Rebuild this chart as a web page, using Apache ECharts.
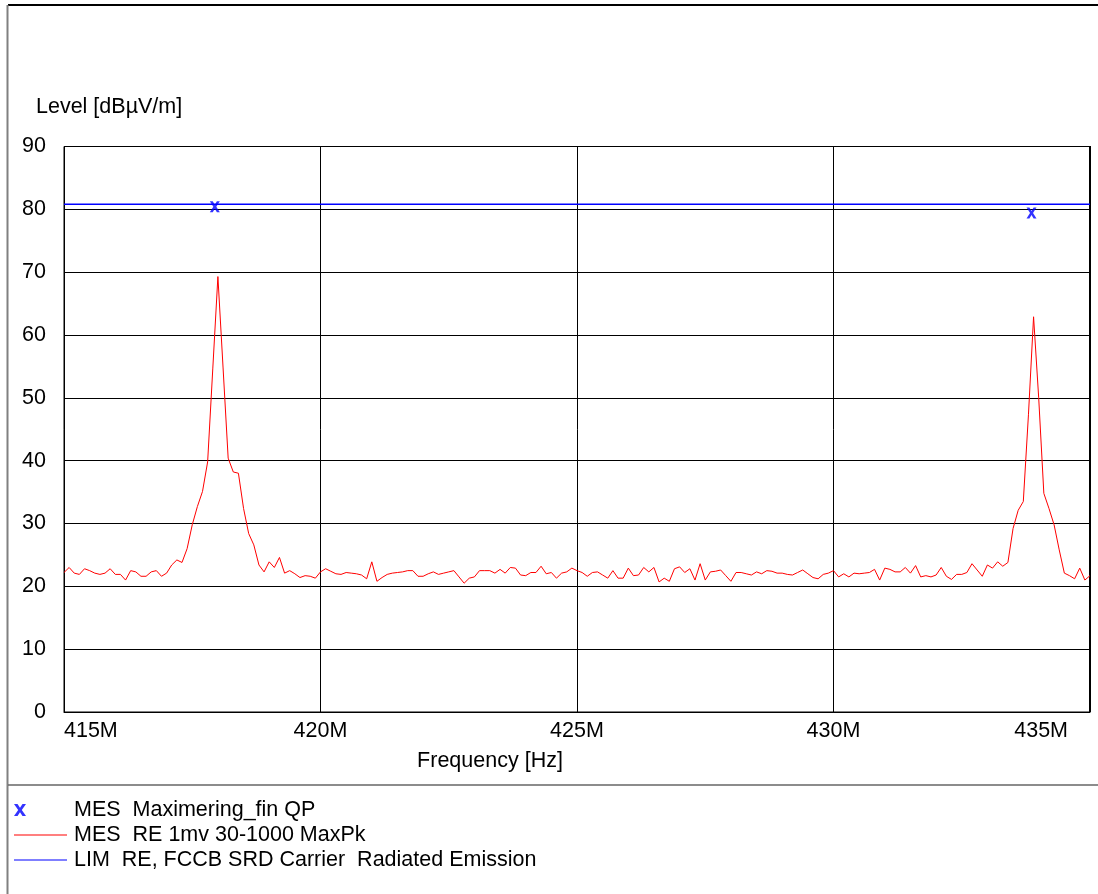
<!DOCTYPE html>
<html>
<head>
<meta charset="utf-8">
<script src="https://cdn.jsdelivr.net/npm/echarts@6/dist/echarts.min.js"></script>
<style>
html, body { margin: 0; padding: 0; background: #fff; }
#chart { width: 1098px; height: 894px; }
</style>
</head>
<body>
<div id="chart"></div>
<script>
var dom = document.getElementById("chart");
var myChart = echarts.init(dom);

// sweep: 415 MHz .. 435 MHz, one reading every 100 kHz
var sweepStart = 415e6;
var sweepStep = 0.1e6;
var maxPk = [
    22.2, 23.0, 22.1, 21.9, 22.8, 22.5, 22.1, 21.9, 22.1, 22.8,
    21.9, 21.9, 21.0, 22.5, 22.3, 21.6, 21.6, 22.3, 22.5, 21.6,
    22.1, 23.4, 24.2, 23.8, 26.0, 29.8, 32.7, 35.1, 39.8, 54.6,
    69.3, 54.9, 40.4, 38.2, 38.0, 32.4, 28.4, 26.6, 23.4, 22.3,
    23.9, 23.0, 24.6, 22.1, 22.5, 22.0, 21.4, 21.7, 21.6, 21.3,
    22.3, 22.8, 22.4, 22.0, 21.9, 22.2, 22.1, 22.0, 21.8, 21.2,
    23.9, 20.8, 21.4, 21.9, 22.1, 22.2, 22.3, 22.5, 22.5, 21.6,
    21.6, 22.0, 22.3, 21.9, 22.1, 22.3, 22.5, 21.5, 20.5, 21.3,
    21.5, 22.5, 22.5, 22.5, 22.1, 22.7, 22.1, 23.0, 22.9, 21.8,
    21.7, 22.2, 22.2, 23.2, 22.0, 22.2, 21.3, 22.1, 22.3, 22.9,
    22.5, 22.2, 21.6, 22.2, 22.3, 21.8, 21.3, 22.5, 21.3, 21.3,
    22.9, 21.7, 21.8, 23.0, 22.3, 23.0, 20.7, 21.3, 20.8, 22.8,
    23.1, 22.2, 22.8, 21.0, 23.6, 21.0, 22.3, 22.4, 22.6, 21.7,
    20.8, 22.2, 22.2, 22.0, 21.8, 22.3, 22.0, 22.5, 22.4, 22.1,
    22.1, 21.9, 21.8, 22.2, 22.6, 22.0, 21.4, 21.2, 21.9, 22.1,
    22.5, 21.5, 22.0, 21.5, 22.1, 22.0, 22.1, 22.2, 22.7, 21.0,
    22.9, 22.7, 22.3, 22.3, 23.0, 22.1, 23.3, 21.5, 21.7, 21.5,
    21.8, 23.0, 21.6, 21.1, 21.9, 21.9, 22.2, 23.6, 22.6, 21.6,
    23.4, 22.9, 23.9, 23.2, 23.8, 29.2, 32.1, 33.5, 47.3, 62.9,
    50.0, 34.8, 32.4, 29.8, 25.8, 22.1, 21.7, 21.2, 22.9, 21.0,
    21.7
];

// final QP measurements
var qpFreq = [417.94e6, 433.86e6];
var qpLevel = [80.4, 79.4];

// limit line
var limitFreq = [415e6, 435e6];
var limitLevel = 80.8;

var xTicks = [415e6, 420e6, 425e6, 430e6, 435e6];
var yTicks = [0, 10, 20, 30, 40, 50, 60, 70, 80, 90];

var font = 'Liberation Sans';
var fs = 21.5;
var xMark = 'path://M0,0L3.5,0L6,3.8L8.5,0L12,0L7.8,6L12,12L8.5,12L6,8.2L3.5,12L0,12L4.2,6Z';
// legend icons: tiny corner points keep the 53x12 box so the shapes are not stretched
var boxPts = ' M0,0L0.01,0L0,0.01Z M53,12L52.99,12L53,11.99Z';
var xIcon = xMark + boxPts;
var lineIcon = 'path://M0,5.5L53,5.5L53,6.6L0,6.6Z' + boxPts;

var pkData = maxPk.map(function (v, i) {
    return [sweepStart + i * sweepStep, v];
});
var qpData = qpFreq.map(function (f, i) {
    return [f, qpLevel[i]];
});
var limData = limitFreq.map(function (f) {
    return [f, limitLevel];
});

var option = {
    animation: false,
    backgroundColor: '#fff',
    textStyle: { fontFamily: font },
    title: {
        text: 'Level [dBµV/m]',
        left: 36,
        top: 96,
        padding: 0,
        textStyle: { fontFamily: font, fontSize: fs, fontWeight: 'normal', color: '#000' }
    },
    grid: {
        left: 64,
        right: 8,
        top: 146.5,
        bottom: 182,
        show: true,
        borderColor: '#000',
        borderWidth: 1
    },
    xAxis: {
        type: 'value',
        min: xTicks[0],
        max: xTicks[xTicks.length - 1],
        interval: 5e6,
        name: 'Frequency [Hz]',
        nameLocation: 'middle',
        nameGap: 38,
        nameTextStyle: { fontSize: fs, color: '#000', padding: [0, 174, 0, 0] },
        axisLine: { lineStyle: { color: '#000', width: 1 } },
        axisTick: { show: false },
        splitLine: { lineStyle: { color: '#000', width: 1 } },
        axisLabel: {
            color: '#000',
            fontSize: fs,
            margin: 8,
            showMinLabel: true,
            showMaxLabel: true,
            alignMinLabel: 'left',
            alignMaxLabel: 'right',
            formatter: function (v) {
                var s = Math.round(v / 1e6) + 'M';
                if (v === xTicks[xTicks.length - 1]) {
                    return '{last|' + s + '}';
                }
                return s;
            },
            rich: {
                last: { fontSize: fs, color: '#000', padding: [0, 22, 0, 0] }
            }
        }
    },
    yAxis: {
        type: 'value',
        min: yTicks[0],
        max: yTicks[yTicks.length - 1],
        interval: 10,
        axisLine: { show: true, lineStyle: { color: '#000', width: 1 } },
        axisTick: { show: false },
        splitLine: { lineStyle: { color: '#000', width: 1 } },
        axisLabel: { color: '#000', fontSize: fs, margin: 18 }
    },
    legend: {
        orient: 'vertical',
        left: 14,
        top: 799,
        padding: 0,
        itemWidth: 53,
        itemHeight: 12,
        itemGap: 3,
        selectedMode: false,
        textStyle: { fontSize: fs, color: '#000', lineHeight: 20, padding: [0, 0, 0, 2] },
        data: [
            { name: 'MES  Maximering_fin QP', icon: xIcon },
            { name: 'MES  RE 1mv 30-1000 MaxPk', icon: lineIcon },
            { name: 'LIM  RE, FCCB SRD Carrier  Radiated Emission', icon: lineIcon }
        ]
    },
    graphic: [
        { type: 'line', shape: { x1: 8, y1: 5, x2: 1098, y2: 5 }, style: { stroke: '#000', lineWidth: 2 } },
        { type: 'line', shape: { x1: 7.5, y1: 5, x2: 7.5, y2: 894 }, style: { stroke: '#808080', lineWidth: 2 } },
        { type: 'line', shape: { x1: 8, y1: 785, x2: 1098, y2: 785 }, style: { stroke: '#666', lineWidth: 1.5 } },
        { type: 'line', shape: { x1: 1090, y1: 146, x2: 1090, y2: 712 }, style: { stroke: '#000', lineWidth: 2 } }
    ],
    series: [
        {
            name: 'MES  RE 1mv 30-1000 MaxPk',
            type: 'line',
            data: pkData,
            symbol: 'none',
            lineStyle: { color: '#ff0000', width: 1 },
            itemStyle: { color: '#ff0000' },
            z: 3
        },
        {
            name: 'LIM  RE, FCCB SRD Carrier  Radiated Emission',
            type: 'line',
            data: limData,
            symbol: 'none',
            lineStyle: { color: '#0000ff', width: 1.5 },
            itemStyle: { color: '#0000ff' },
            z: 4
        },
        {
            name: 'MES  Maximering_fin QP',
            type: 'scatter',
            data: qpData,
            symbol: xMark,
            symbolSize: [10, 11],
            itemStyle: { color: '#0000ff' },
            z: 5
        }
    ]
};

if (option && typeof option === 'object') {
    myChart.setOption(option);
}
</script>
</body>
</html>
